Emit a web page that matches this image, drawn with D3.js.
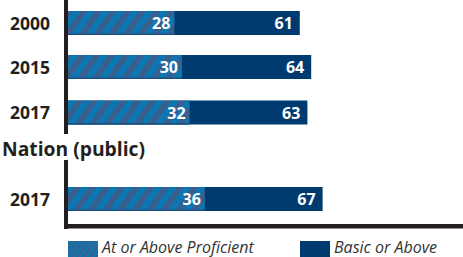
<!DOCTYPE html>
<html><head><meta charset="utf-8">
<script src="https://cdn.jsdelivr.net/npm/d3@7"></script>
<style>body{margin:0;background:#fff}svg{display:block}</style>
</head><body>
<svg id="c" width="463" height="257"></svg>
<script>
const categories = ["2000", "2015", "2017", "2017n"];
const catLabels = ["2000", "2015", "2017", "2017"];
const proficient = [28, 30, 32, 36];
const basic = [61, 64, 63, 67];
const groupLabel = "Nation (public)";
const legendLabels = ["At or Above Proficient", "Basic or Above"];

const svg = d3.select("#c");
const defs = svg.append("defs");
function stripes(id, size, sw) {
  const p = defs.append("pattern").attr("id", id).attr("patternUnits", "userSpaceOnUse")
    .attr("width", size).attr("height", size).attr("patternTransform", "rotate(35)");
  p.append("rect").attr("width", size).attr("height", size).attr("fill", "#0b77b3");
  p.append("rect").attr("width", sw).attr("height", size).attr("fill", "#38608f");
}
stripes("st", 12, 6);
stripes("st2", 5, 2.5);

const x = d3.scaleLinear().domain([0, 100]).range([68, 448]);
const yPos = {"2000": 11, "2015": 55, "2017": 100.5, "2017n": 187};
const bh = 24;

// bars
const g = svg.append("g");
categories.forEach((c, i) => {
  const y0 = yPos[c];
  g.append("rect").attr("x", x(0)).attr("y", y0).attr("width", x(basic[i]) - x(0)).attr("height", bh).attr("fill", "#003b6f");
  g.append("rect").attr("x", x(0)).attr("y", y0).attr("width", x(proficient[i]) - x(0)).attr("height", bh).attr("fill", "url(#st)");
  g.append("rect").attr("x", x(0)).attr("y", y0 + bh - 1.5).attr("width", x(proficient[i]) - x(0)).attr("height", 1.5).attr("fill", "#1d4f80");
  g.append("text").attr("x", x(proficient[i]) - 4).attr("y", y0 + bh / 2 + 6).attr("text-anchor", "end")
    .attr("fill", "#fff").attr("font-family", "Open Sans").attr("font-weight", 700).attr("font-size", 16).text(proficient[i]);
  g.append("text").attr("x", x(basic[i]) - 7).attr("y", y0 + bh / 2 + 6).attr("text-anchor", "end")
    .attr("fill", "#fff").attr("font-family", "Open Sans").attr("font-weight", 700).attr("font-size", 16).text(basic[i]);
  g.append("text").attr("x", 50).attr("y", y0 + bh / 2 + 6.5).attr("text-anchor", "end")
    .attr("fill", "#231f20").attr("font-family", "Open Sans").attr("font-weight", 700).attr("font-size", 17.5).text(catLabels[i]);
});

// axes lines
svg.append("rect").attr("x", 64).attr("y", 0).attr("width", 4).attr("height", 134).attr("fill", "#231f20");
svg.append("rect").attr("x", 64).attr("y", 160).attr("width", 4).attr("height", 69).attr("fill", "#231f20");
svg.append("rect").attr("x", 64).attr("y", 224).attr("width", 399).attr("height", 4.5).attr("fill", "#231f20");

svg.append("text").attr("x", 2).attr("y", 155.5).attr("fill", "#231f20").attr("font-family", "Open Sans")
  .attr("font-weight", 700).attr("font-size", 19.3).text(groupLabel);

// legend
const lg = svg.append("g");
lg.append("rect").attr("x", 68).attr("y", 241).attr("width", 30).attr("height", 16).attr("fill", "url(#st2)");
lg.append("text").attr("x", 102).attr("y", 253).attr("fill", "#333").attr("font-family", "Open Sans")
  .attr("font-style", "italic").attr("font-size", 16).text(legendLabels[0]);
lg.append("rect").attr("x", 300).attr("y", 241).attr("width", 30).attr("height", 16).attr("fill", "#003b6f");
lg.append("text").attr("x", 334).attr("y", 253).attr("fill", "#333").attr("font-family", "Open Sans")
  .attr("font-style", "italic").attr("font-size", 16).text(legendLabels[1]);
</script>
</body></html>
